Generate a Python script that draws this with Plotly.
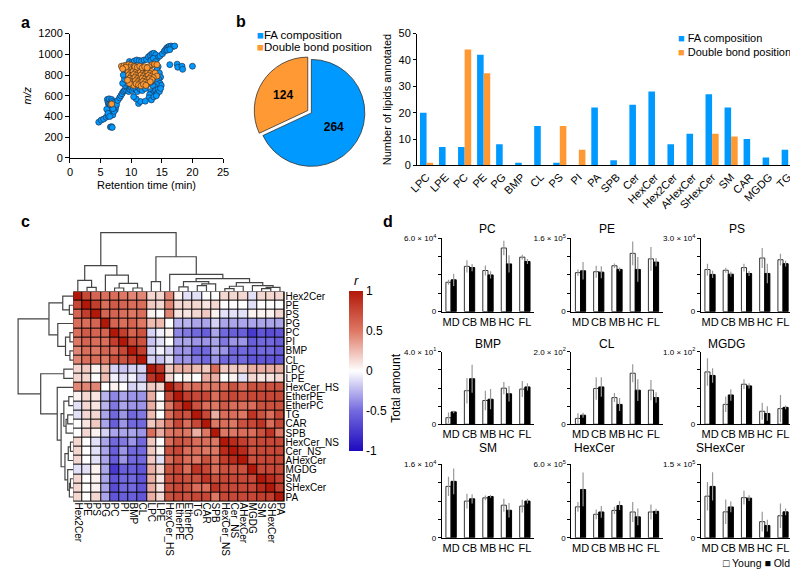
import plotly.graph_objects as go

W, H = 798, 573
FONT = "Liberation Sans, Arial, sans-serif"
BLUE = "rgb(0,153,255)"
ORANGE = "rgb(255,153,51)"


def fx(px):
    return px / W


def fy(py):
    return 1 - py / H


# ---- panel a : retention time (min) vs m/z
blue_points = [
    (4.7, 345), (5.1, 365), (5.5, 375), (5.9, 392), (6.2, 405), (6.5, 420), (6.6, 298), (6.8, 302), (6.9, 294),
    (6.1, 565), (6.2, 540), (6.3, 520), (6.4, 505), (6.5, 490), (6.6, 470), (6.7, 455), (6.8, 440), (6.9, 430),
    (7.0, 415), (6.3, 455), (6.0, 470), (6.4, 570), (6.8, 565), (6.9, 545), (7.1, 530), (7.2, 500), (7.3, 480),
    (7.4, 465), (7.5, 495), (7.6, 515), (7.2, 450), (7.0, 475), (6.6, 515), (6.2, 430), (6.5, 400), (7.8, 555),
    (8.1, 580), (8.3, 600), (8.5, 620), (8.7, 640), (8.9, 650), (9.1, 660), (9.3, 680), (9.5, 690), (9.0, 700),
    (9.3, 720), (9.6, 640), (9.8, 660), (10.0, 680), (10.2, 650), (10.4, 670), (10.6, 690), (10.8, 660),
    (11.0, 640), (11.2, 680), (11.5, 660), (11.8, 650), (12.0, 690), (12.3, 670), (12.5, 700), (9.2, 780),
    (9.0, 830), (8.8, 870), (9.4, 850), (9.7, 930), (10.1, 920), (10.5, 935), (10.9, 945), (11.3, 940),
    (11.7, 935), (12.1, 945), (12.5, 950), (12.8, 975), (13.1, 990), (13.4, 1005), (13.7, 1010), (14.0, 995),
    (14.3, 965), (14.7, 985), (15.1, 1005), (15.4, 1030), (15.6, 1045), (15.8, 1060), (16.0, 1070),
    (16.2, 1075), (16.5, 1080), (16.8, 1075), (17.1, 1080), (15.9, 1040), (16.3, 1045), (13.2, 940),
    (13.6, 960), (14.0, 930), (14.4, 880), (14.2, 850), (14.6, 820), (14.8, 780), (14.5, 760), (14.3, 740),
    (14.7, 720), (14.9, 700), (14.1, 710), (13.8, 690), (13.5, 700), (13.2, 730), (13.0, 760), (13.2, 640),
    (13.4, 620), (13.6, 600), (13.8, 630), (14.0, 650), (14.2, 620), (14.4, 660), (14.6, 640), (14.8, 670),
    (13.0, 610), (12.9, 580), (13.3, 560), (13.7, 590), (14.1, 600), (11.2, 525), (11.5, 545), (12.3, 548),
    (10.8, 570), (10.4, 590), (16.3, 900), (17.5, 905), (17.6, 875), (18.3, 885), (18.4, 855), (20.0, 885),
    (8.6, 720), (8.9, 760), (9.1, 800), (8.7, 800),
]
orange_points = [
    (8.4, 885), (8.8, 890), (9.2, 895), (9.6, 900), (10.0, 895), (10.4, 885), (13.4, 900), (13.8, 905),
    (14.2, 900), (12.9, 880), (9.3, 860), (9.7, 870), (10.1, 855), (10.5, 865), (10.9, 850), (11.3, 860),
    (11.7, 845), (12.1, 855), (12.5, 840), (12.9, 850), (13.3, 835), (9.5, 830), (9.9, 820), (10.3, 835),
    (10.7, 825), (11.1, 815), (11.5, 830), (11.9, 820), (12.3, 810), (12.7, 825), (13.1, 815), (13.5, 805),
    (13.9, 820), (14.2, 790), (9.6, 800), (10.0, 790), (10.4, 805), (10.8, 795), (11.2, 785), (11.6, 800),
    (12.0, 790), (12.4, 780), (12.8, 795), (13.2, 785), (13.6, 775), (9.8, 770), (10.2, 760), (10.6, 775),
    (11.0, 765), (11.4, 755), (11.8, 770), (12.2, 760), (12.6, 750), (13.0, 765), (13.4, 755), (9.9, 740),
    (10.3, 730), (10.7, 745), (11.1, 735), (11.5, 725), (11.9, 740), (12.3, 730), (12.7, 720), (13.1, 735),
    (10.0, 710), (10.4, 700), (10.8, 715), (11.2, 705), (11.6, 695), (12.0, 710), (12.4, 700), (9.7, 720),
    (9.4, 750), (10.6, 880), (11.0, 875), (11.4, 885), (11.8, 870), (12.2, 880), (12.6, 870), (9.1, 875),
    (8.6, 860), (6.8, 520),
]

# ---- panel b : annotation counts
pie_labels = ["FA composition", "Double bond position"]
pie_values = [264, 124]
lipid_classes = ["LPC", "LPE", "PC", "PE", "PG", "BMP", "CL", "PS", "PI", "PA", "SPB", "Cer", "HexCer",
                 "Hex2Cer", "AHexCer", "SHexCer", "SM", "CAR", "MGDG", "TG"]
fa_counts = [20, 7, 7, 42, 8, 1, 15, 1, 0, 22, 2, 23, 28, 8, 12, 27, 22, 10, 3, 6]
db_counts = [1, 0, 44, 35, 0, 0, 0, 15, 6, 0, 0, 0, 0, 0, 0, 12, 11, 0, 0, 0]

# ---- panel c : correlation heatmap (lower triangle, in clustered order)
hm_names = ["Hex2Cer", "PE", "PS", "PG", "PC", "PI", "BMP", "CL", "LPC", "LPE", "HexCer_HS", "EtherPE",
            "EtherPC", "TG", "CAR", "SPB", "HexCer_NS", "Cer_NS", "AHexCer", "MGDG", "SM", "SHexCer", "PA"]
corr_lower = [
    [1],
    [0.75, 1],
    [0.6, 0.8, 1],
    [0.55, 0.55, 0.6, 1],
    [0.55, 0.65, 0.6, 0.6, 1],
    [0.5, 0.6, 0.55, 0.55, 0.8, 1],
    [0.45, 0.55, 0.5, 0.6, 0.6, 0.75, 1],
    [0.45, 0.55, 0.55, 0.5, 0.7, 0.7, 0.8, 1],
    [0.15, 0.2, 0.05, 0.25, -0.15, -0.2, -0.15, -0.15, 1],
    [0.15, 0.15, 0.0, 0.25, -0.05, -0.1, -0.05, -0.2, 0.85, 1],
    [0.45, 0.45, 0.45, 0.0, 0.05, 0.0, -0.15, -0.1, 0.2, 0.15, 1],
    [0.05, 0.15, 0.1, -0.25, -0.4, -0.3, -0.35, -0.35, 0.3, 0.0, 0.75, 1],
    [-0.1, 0.15, 0.1, -0.25, -0.45, -0.3, -0.35, -0.35, 0.3, 0.05, 0.5, 0.8, 1],
    [-0.1, 0.15, 0.15, -0.3, -0.5, -0.35, -0.5, -0.45, 0.25, 0.0, 0.55, 0.75, 0.7, 1],
    [0.0, 0.1, 0.2, -0.3, -0.55, -0.35, -0.5, -0.5, 0.2, 0.3, 0.5, 0.75, 0.55, 0.75, 1],
    [0.0, 0.15, 0.05, -0.15, -0.3, -0.3, -0.3, -0.35, 0.55, 0.3, 0.5, 0.55, 0.5, 0.3, 0.5, 1],
    [0.15, 0.0, -0.1, -0.3, -0.5, -0.45, -0.35, -0.5, 0.2, 0.0, 0.55, 0.7, 0.65, 0.55, 0.55, 0.5, 1],
    [0.15, 0.0, -0.1, -0.3, -0.55, -0.35, -0.5, -0.5, 0.2, 0.05, 0.7, 0.75, 0.55, 0.55, 0.5, 0.5, 0.9, 1],
    [0.15, 0.0, -0.1, -0.3, -0.55, -0.35, -0.5, -0.5, 0.2, -0.1, 0.55, 0.7, 0.55, 0.5, 0.7, 0.55, 0.8, 0.9, 1],
    [-0.1, -0.1, 0.05, -0.3, -0.75, -0.55, -0.55, -0.6, 0.3, 0.15, 0.7, 0.75, 0.55, 0.85, 0.75, 0.55, 0.7,
     0.7, 0.7, 1],
    [0.15, 0.0, 0.05, -0.3, -0.6, -0.5, -0.5, -0.6, 0.3, 0.1, 0.7, 0.75, 0.7, 0.7, 0.85, 0.7, 0.75, 0.75,
     0.75, 0.75, 1],
    [0.15, 0.0, 0.05, -0.3, -0.65, -0.5, -0.5, -0.6, 0.3, 0.1, 0.7, 0.75, 0.7, 0.55, 0.55, 0.85, 0.75, 0.75,
     0.75, 0.75, 0.9, 1],
    [0.15, 0.0, 0.15, -0.3, -0.6, -0.55, -0.55, -0.6, 0.3, 0.15, 0.7, 0.75, 0.7, 0.75, 0.75, 0.5, 0.75, 0.75,
     0.75, 0.75, 0.8, 0.8, 1],
]
# dendrogram: (merge height, left, right), leaves are indices into hm_names
tree = (1.0,
        (0.44, (0.19, 0, (0.07, 1, 2)), (0.28, 3, (0.14, (0.06, 4, 5), (0.06, 6, 7)))),
        (0.59, (0.17, 8, 9),
         (0.29, 10,
          (0.22,
           (0.17, (0.08, 11, 12), (0.13, (0.10, 13, 14), 15)),
           (0.15, (0.09, (0.05, 16, 17), 18), (0.10, 19, (0.07, (0.05, 20, 21), 22)))))))

# ---- panel d : total amount by brain region
regions = ["MD", "CB", "MB", "HC", "FL"]
d_classes = ["PC", "PE", "PS", "BMP", "CL", "MGDG", "SM", "HexCer", "SHexCer"]
d_max = [6.0e4, 1.6e5, 3.0e4, 40, 200, 100, 1.6e4, 6.0e5, 1.5e5]
d_max_labels = ["6.0 × 10<sup>4</sup>", "1.6 × 10<sup>5</sup>", "3.0 × 10<sup>4</sup>",
                "4.0 × 10<sup>1</sup>", "2.0 × 10<sup>2</sup>", "1.0 × 10<sup>2</sup>",
                "1.6 × 10<sup>4</sup>", "6.0 × 10<sup>5</sup>", "1.5 × 10<sup>5</sup>"]
young_mean = [
    [2.4e4, 3.7e4, 3.36e4, 5.2e4, 4.45e4],
    [0.85e5, 0.87e5, 1.0e5, 1.27e5, 1.15e5],
    [1.72e4, 1.69e4, 1.8e4, 2.19e4, 2.12e4],
    [3.6, 18.5, 13.1, 19.9, 19.4],
    [16, 98.7, 73.5, 140.8, 94],
    [72.2, 27.4, 55.2, 17.9, 21.5],
    [1.12e4, 0.80e4, 0.87e4, 0.71e4, 0.69e4],
    [2.53e5, 1.92e5, 2.24e5, 2.11e5, 2.11e5],
    [0.85e5, 0.53e5, 0.82e5, 0.33e5, 0.45e5],
]
young_err = [
    [0.2e4, 0.5e4, 0.4e4, 0.6e4, 0.2e4],
    [0.07e5, 0.13e5, 0.05e5, 0.26e5, 0.26e5],
    [0.24e4, 0.1e4, 0.16e4, 0.41e4, 0.24e4],
    [2.9, 7, 5.4, 3.4, 4.4],
    [14, 31, 12.5, 25, 28],
    [19, 10.7, 6.7, 11.7, 18.8],
    [0.21e4, 0.16e4, 0.05e4, 0.14e4, 0.14e4],
    [0.4e5, 0.4e5, 0.29e5, 0.82e5, 0.61e5],
    [0.29e5, 0.25e5, 0.14e5, 0.2e5, 0.25e5],
]
old_mean = [
    [2.6e4, 3.6e4, 3.0e4, 3.9e4, 4.1e4],
    [0.89e5, 0.86e5, 0.92e5, 0.92e5, 1.08e5],
    [1.52e4, 1.53e4, 1.56e4, 1.56e4, 1.96e4],
    [6.8, 25.1, 13.8, 16.8, 20.6],
    [25, 103, 54.7, 94, 73.5],
    [67.3, 40.4, 52.9, 14.8, 23.3],
    [1.23e4, 0.85e4, 0.90e4, 0.60e4, 0.80e4],
    [3.95e5, 2.11e5, 2.64e5, 1.71e5, 2.16e5],
    [1.05e5, 0.63e5, 0.81e5, 0.25e5, 0.53e5],
]
old_err = [
    [0.5e4, 0.3e4, 0.3e4, 0.7e4, 0.2e4],
    [0.19e5, 0.13e5, 0.04e5, 0.27e5, 0.09e5],
    [0.15e4, 0.1e4, 0.1e4, 0.4e4, 0.12e4],
    [0.7, 7.7, 5.6, 4.3, 2],
    [7, 27, 18, 30, 14.5],
    [10, 8, 3.6, 9.9, 2.7],
    [0.28e4, 0.1e4, 0.03e4, 0.16e4, 0.05e4],
    [1.38e5, 0.48e5, 0.37e5, 0.69e5, 0.21e5],
    [0.29e5, 0.11e5, 0.06e5, 0.12e5, 0.07e5],
]

fig = go.Figure()

# panel a
fig.add_trace(go.Scatter(x=[p[0] for p in blue_points], y=[p[1] for p in blue_points], mode="markers",
                         marker=dict(color=BLUE, size=6, line=dict(color="#1d3557", width=0.7)),
                         xaxis="x", yaxis="y", showlegend=False))
fig.add_trace(go.Scatter(x=[p[0] for p in orange_points], y=[p[1] for p in orange_points], mode="markers",
                         marker=dict(color=ORANGE, size=6, line=dict(color="#4a3520", width=0.7)),
                         xaxis="x", yaxis="y", showlegend=False))

# panel b
fig.add_trace(go.Pie(labels=pie_labels, values=pie_values, sort=False, direction="clockwise", rotation=0,
                     pull=[0, 0.08], textinfo="value", textposition="inside",
                     textfont=dict(size=12, color="black", family=FONT, weight="bold"),
                     marker=dict(colors=[BLUE, ORANGE], line=dict(color="#333", width=0.8)),
                     domain=dict(x=[fx(238), fx(362)], y=[fy(160), fy(42)]), showlegend=False))
fig.add_trace(go.Bar(x=lipid_classes, y=fa_counts, marker=dict(color=BLUE, line=dict(width=0)),
                     width=0.345, offset=-0.345, xaxis="x2", yaxis="y2", showlegend=False))
fig.add_trace(go.Bar(x=lipid_classes, y=db_counts, marker=dict(color=ORANGE, line=dict(width=0)),
                     width=0.345, offset=0, xaxis="x2", yaxis="y2", showlegend=False))

# panel c
n = len(hm_names)
corr = [[0.0] * n for _ in range(n)]
for i, row in enumerate(corr_lower):
    for j, v in enumerate(row):
        corr[i][j] = v
        corr[j][i] = v

fig.add_trace(go.Heatmap(
    z=corr, x=list(range(n)), y=list(range(n)), zmin=-1, zmax=1, xgap=1, ygap=1,
    colorscale=[[0, "rgb(30,10,190)"], [0.25, "rgb(115,105,222)"], [0.5, "rgb(255,255,255)"],
                [0.75, "rgb(222,120,100)"], [1, "rgb(178,24,10)"]],
    colorbar=dict(x=fx(338), xanchor="left", xpad=0, ypad=0, y=fy(364.5), yanchor="middle",
                  len=163 / H, thickness=14, outlinewidth=0, ticks="",
                  tickvals=[-1, -0.5, 0, 0.5, 1], ticktext=["-1", "-0.5", "0", "0.5", "1"],
                  tickfont=dict(size=12)),
    xaxis="x3", yaxis="y3", hoverinfo="skip"))


def dendro(node, segs):
    if isinstance(node, int):
        return node + 0.5, 0.0
    h, left, right = node
    lp, lh = dendro(left, segs)
    rp, rh = dendro(right, segs)
    segs.append(((lp, lh), (lp, h), (rp, h), (rp, rh)))
    return (lp + rp) / 2, h


segments = []
dendro(tree, segments)
pos_line, h_line = [], []
for seg in segments:
    for p, h in seg:
        pos_line.append(p)
        h_line.append(h)
    pos_line.append(None)
    h_line.append(None)

fig.add_trace(go.Scatter(x=h_line, y=pos_line, mode="lines", line=dict(color="#444", width=1.2),
                         xaxis="x4", yaxis="y4", showlegend=False, hoverinfo="skip"))
fig.add_trace(go.Scatter(x=pos_line, y=h_line, mode="lines", line=dict(color="#444", width=1.2),
                         xaxis="x5", yaxis="y5", showlegend=False, hoverinfo="skip"))

# panel d
col_x = [(433, 527), (565, 658), (697, 790)]
row_y = [(229, 304), (345, 419), (460, 535)]
title_y = [220, 337, 452]
annotations = []
axes = {}
for i, cls in enumerate(d_classes):
    r, c = divmod(i, 3)
    k = 6 + i
    fig.add_trace(go.Bar(x=regions, y=young_mean[i], width=0.28, offset=-0.28,
                         marker=dict(color="white", line=dict(color="#333", width=1)),
                         error_y=dict(type="data", array=young_err[i], color="#999", thickness=1.2, width=0),
                         xaxis="x%d" % k, yaxis="y%d" % k, showlegend=False))
    fig.add_trace(go.Bar(x=regions, y=old_mean[i], width=0.28, offset=0,
                         marker=dict(color="black", line=dict(color="black", width=1)),
                         error_y=dict(type="data", array=old_err[i], color="#999", thickness=1.2, width=0),
                         xaxis="x%d" % k, yaxis="y%d" % k, showlegend=False))
    m = d_max[i]
    axes["xaxis%d" % k] = dict(domain=[fx(col_x[c][0]), fx(col_x[c][1])], anchor="y%d" % k,
                               range=[-0.5, 4.5], showline=True, linecolor="black", ticks="",
                               tickfont=dict(size=11), showgrid=False)
    axes["yaxis%d" % k] = dict(domain=[fy(row_y[r][1]), fy(row_y[r][0])], anchor="x%d" % k,
                               range=[0, m], showline=True, linecolor="black", ticks="outside",
                               ticklen=3, tickcolor="black", tickvals=[0, m],
                               ticktext=["0", d_max_labels[i]], tickfont=dict(size=8),
                               minor=dict(tick0=0, dtick=m / 4, ticks="outside", ticklen=3,
                                          tickcolor="black", showgrid=False),
                               showgrid=False, zeroline=False)
    annotations.append(dict(text=cls, x=fx((col_x[c][0] + col_x[c][1]) / 2), y=fy(title_y[r]),
                            xref="paper", yref="paper", showarrow=False, font=dict(size=12)))

axis_common = dict(showline=True, linecolor="black", showgrid=False, zeroline=False)

fig.update_layout(
    width=W, height=H, margin=dict(l=0, r=0, t=0, b=0),
    plot_bgcolor="white", paper_bgcolor="white",
    font=dict(family=FONT, size=11, color="black"),
    barmode="overlay",
    xaxis=dict(domain=[fx(54), fx(210)], anchor="y", range=[0, 25], dtick=5, ticks="outside", ticklen=4,
               tickcolor="black", tickfont=dict(size=11),
               title=dict(text="Retention time (min)", standoff=4, font=dict(size=11)), **axis_common),
    yaxis=dict(domain=[fy(147), fy(20)], anchor="x", range=[0, 1200], dtick=200, ticks="outside", ticklen=4,
               tickcolor="black", tickfont=dict(size=11),
               title=dict(text="<i>m/z</i>", standoff=4, font=dict(size=11)), **axis_common),
    xaxis2=dict(domain=[fx(407.7), fx(795.7)], anchor="y2", tickangle=-45, ticks="", tickfont=dict(size=11),
                **axis_common),
    yaxis2=dict(domain=[fy(154.7), fy(20)], anchor="x2", range=[0, 50], dtick=10, ticks="outside",
                ticklen=3, tickcolor="black", tickfont=dict(size=11),
                title=dict(text="Number of lipids annotated", standoff=4, font=dict(size=11)), **axis_common),
    xaxis3=dict(domain=[fx(57.3), fx(272.7)], anchor="y3", range=[-0.5, n - 0.5], tickvals=list(range(n)),
                ticktext=hm_names, tickangle=90, ticks="", showgrid=False, zeroline=False,
                tickfont=dict(size=10)),
    yaxis3=dict(domain=[fy(498), fy(283.5)], anchor="x3", range=[n - 0.5, -0.5], tickvals=list(range(n)),
                ticktext=hm_names, side="right", ticks="", showgrid=False, zeroline=False,
                tickfont=dict(size=10)),
    xaxis4=dict(domain=[0, fx(57.3)], anchor="y4", range=[1.02, 0], visible=False),
    yaxis4=dict(domain=[fy(498), fy(283.5)], anchor="x4", range=[n, 0], visible=False),
    xaxis5=dict(domain=[fx(57.3), fx(272.7)], anchor="y5", range=[0, n], visible=False),
    yaxis5=dict(domain=[fy(283.5), fy(222)], anchor="x5", range=[0, 1.02], visible=False),
    **axes,
)

# black background behind heatmap cells so the gaps read as cell borders
fig.add_shape(type="rect", xref="x3", yref="y3", x0=-0.5, x1=n - 0.5, y0=-0.5, y1=n - 0.5,
              fillcolor="black", line=dict(color="black", width=1), layer="below")


def ann(text, px, py, size=11, xanchor="center", **kw):
    annotations.append(dict(text=text, x=fx(px), y=fy(py), xref="paper", yref="paper", showarrow=False,
                            xanchor=xanchor, yanchor="middle", font=dict(size=size), **kw))


ann("<b>a</b>", 2, 9, 16, "left")
ann("<b>b</b>", 221, 8, 16, "left")
ann("<b>c</b>", 2, 212, 16, "left")
ann("<b>d</b>", 371, 212, 16, "left")
ann("<span style='color:%s'>■</span>FA composition" % BLUE, 243, 21, 11.5, "left")
ann("<span style='color:%s'>■</span>Double bond position" % ORANGE, 243, 34, 11.5, "left")
ann("<span style='color:%s'>■</span> FA composition" % BLUE, 672, 25, 11, "left")
ann("<span style='color:%s'>■</span> Double bond position" % ORANGE, 672, 39, 11, "left")
ann("<i>r</i>", 346, 272, 13)
ann("Total amount", 386, 382, 12, textangle=-90)
ann("□ Young ■ Old", 790, 561, 10.5, "right")

fig.update_layout(annotations=annotations)
fig.write_html("out.html")
